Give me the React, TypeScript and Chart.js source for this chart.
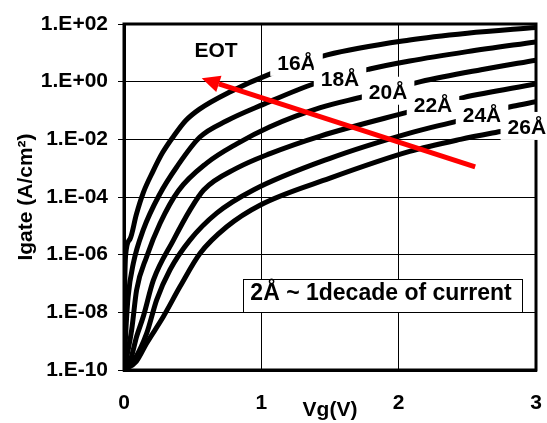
import React, { useEffect, useRef } from 'react';
import { Chart, registerables } from 'chart.js';

Chart.register(...registerables);

const FONT = "'Liberation Sans', Arial, Helvetica, sans-serif";

// ---- axis ticks ----
const xTicks = [0, 1, 2, 3];
const xTickLabels = ['0', '1', '2', '3'];
const yTicks = [1e-10, 1e-8, 1e-6, 1e-4, 1e-2, 1e0, 1e2];
const yTickLabels = ['1.E-10', '1.E-08', '1.E-06', '1.E-04', '1.E-02', '1.E+00', '1.E+02'];

// ---- series: gate current density (A/cm2) vs gate voltage (V) per EOT ----
const eotLabels = ['16Å', '18Å', '20Å', '22Å', '24Å', '26Å'];

const vg16 = [0, 0.004, 0.012, 0.044, 0.09, 0.14, 0.21, 0.28, 0.36, 0.45, 0.55, 0.77, 1.075, 1.48, 2.08, 2.5, 3.0];
const ig16 = [1e-10, 3e-8, 1e-6, 3.5e-6, 2.5e-5, 1.4e-4, 7.6e-4, 3.4e-3, 1.26e-2, 4.5e-2, 1.12e-1, 4.4e-1, 1.95, 8.5, 28, 48, 76];

const vg18 = [0, 0.015, 0.03, 0.068, 0.14, 0.262, 0.384, 0.553, 0.748, 1.01, 1.38, 1.79, 2.08, 2.5, 3.0];
const ig18 = [1e-10, 3.2e-9, 3.5e-8, 5e-7, 7.2e-6, 1.3e-4, 1.1e-3, 1.2e-2, 4.4e-2, 1.6e-1, 8.3e-1, 2.75, 5.2, 11, 24];

const vg20 = [0, 0.03, 0.056, 0.092, 0.165, 0.262, 0.396, 0.602, 0.821, 1.063, 1.43, 1.74, 2.16, 2.6, 3.0];
const ig20 = [1e-10, 5e-10, 2.5e-9, 6e-8, 8.5e-7, 1.2e-5, 1.65e-4, 1.5e-3, 7e-3, 2.75e-2, 1.26e-1, 3e-1, 1.0, 2.6, 5.6];

const vg22 = [0, 0.05, 0.092, 0.14, 0.214, 0.36, 0.48, 0.58, 0.821, 1.063, 1.43, 2.08, 2.47, 3.0];
const ig22 = [1e-10, 2.5e-10, 1.45e-9, 7e-9, 1.3e-7, 3.2e-6, 3.5e-5, 1.75e-4, 1e-3, 3.2e-3, 1.3e-2, 9.1e-2, 2.8e-1, 8.3e-1];

const vg24 = [0, 0.08, 0.165, 0.238, 0.335, 0.48, 0.675, 0.942, 1.5, 2.08, 2.425, 2.83, 3.0];
const ig24 = [1e-10, 2.5e-10, 1.85e-9, 2.7e-8, 3e-7, 3.2e-6, 2.75e-5, 1.75e-4, 2.2e-3, 1.65e-2, 4.3e-2, 1.4e-1, 2e-1];

const vg26 = [0, 0.09, 0.165, 0.286, 0.408, 0.553, 0.748, 0.99, 1.5, 2.08, 2.45, 2.76, 3.0];
const ig26 = [1e-10, 2e-10, 8.5e-10, 7e-9, 7.8e-8, 1.1e-6, 9.3e-6, 5.2e-5, 4.5e-4, 3.8e-3, 1e-2, 1.95e-2, 3.2e-2];

const seriesV = [vg16, vg18, vg20, vg22, vg24, vg26];
const seriesI = [ig16, ig18, ig20, ig22, ig24, ig26];

// ---- annotations (data coordinates) ----
const curveLabelV = [1.256, 1.573, 1.923, 2.25, 2.607, 2.933];
const curveLabelI = [4.47, 1.17, 0.447, 0.155, 0.07, 0.0269];
const eotTitle = 'EOT';
const noteText = '2Å ~ 1decade of current';

const overlayPlugin = {
  id: 'overlay',
  afterDatasetsDraw(chart: any) {
    const { ctx, chartArea: a, scales } = chart;
    const x = scales.x;
    const y = scales.y;
    ctx.save();

    // plot frame
    ctx.strokeStyle = '#000';
    ctx.lineWidth = 3;
    ctx.strokeRect(a.left, a.top, a.right - a.left, a.bottom - a.top);

    // red arrow
    const x0 = x.getPixelForValue(2.557);
    const y0 = y.getPixelForValue(1.1e-3);
    const x1 = x.getPixelForValue(0.566);
    const y1 = y.getPixelForValue(1.31);
    const ang = Math.atan2(y1 - y0, x1 - x0);
    const headLen = 18;
    const headHalf = 8.5;
    const bx = x1 - headLen * Math.cos(ang);
    const by = y1 - headLen * Math.sin(ang);
    ctx.strokeStyle = '#ff0000';
    ctx.fillStyle = '#ff0000';
    ctx.lineWidth = 5;
    ctx.beginPath();
    ctx.moveTo(x0, y0);
    ctx.lineTo(bx, by);
    ctx.stroke();
    ctx.beginPath();
    ctx.moveTo(x1, y1);
    ctx.lineTo(bx + headHalf * Math.sin(ang), by - headHalf * Math.cos(ang));
    ctx.lineTo(bx - headHalf * Math.sin(ang), by + headHalf * Math.cos(ang));
    ctx.closePath();
    ctx.fill();

    // EOT title
    ctx.fillStyle = '#000';
    ctx.font = `bold 21px ${FONT}`;
    ctx.textAlign = 'center';
    ctx.textBaseline = 'middle';
    ctx.fillText(eotTitle, x.getPixelForValue(0.67), y.getPixelForValue(11.2));

    // curve labels with white boxes
    eotLabels.forEach((t, i) => {
      const cx = x.getPixelForValue(curveLabelV[i]);
      const cy = y.getPixelForValue(curveLabelI[i]);
      const w = ctx.measureText(t).width + 14;
      ctx.fillStyle = '#fff';
      ctx.fillRect(cx - w / 2, cy - 15, w, 28);
      ctx.fillStyle = '#000';
      ctx.fillText(t, cx, cy + 1);
    });

    // note box
    const rl = x.getPixelForValue(0.869);
    const rr = x.getPixelForValue(2.904);
    const rt = y.getPixelForValue(1.4e-7);
    const rb = y.getPixelForValue(1e-8);
    ctx.fillStyle = '#fff';
    ctx.fillRect(rl, rt, rr - rl, rb - rt);
    ctx.strokeStyle = '#000';
    ctx.lineWidth = 1;
    ctx.strokeRect(Math.round(rl) + 0.5, Math.round(rt) + 0.5, Math.round(rr - rl), Math.round(rb - rt));
    ctx.fillStyle = '#000';
    ctx.font = `bold 23px ${FONT}`;
    ctx.textAlign = 'left';
    ctx.fillText(noteText, x.getPixelForValue(0.92), y.getPixelForValue(4.8e-8) + 1);

    ctx.restore();
  },
};

export default function App() {
  const ref = useRef<HTMLCanvasElement>(null);

  useEffect(() => {
    document.body.style.margin = '0';
    const datasets = seriesV.map((vs, k) => ({
      label: eotLabels[k],
      data: vs.map((v, i) => ({ x: v, y: seriesI[k][i] })),
      borderColor: '#000',
      backgroundColor: '#000',
      borderWidth: 5,
      pointRadius: 0,
      fill: false,
      cubicInterpolationMode: 'monotone' as const,
    }));

    const chart = new Chart(ref.current as HTMLCanvasElement, {
      type: 'line',
      data: { datasets },
      options: {
        animation: false,
        responsive: false,
        devicePixelRatio: 1,
        layout: { padding: { top: 24, right: 11, left: 0, bottom: 0 } },
        plugins: { legend: { display: false }, tooltip: { enabled: false } },
        scales: {
          x: {
            type: 'linear',
            min: 0,
            max: 3,
            afterBuildTicks: (s: any) => {
              s.ticks = xTicks.map((v) => ({ value: v }));
            },
            afterFit: (s: any) => {
              s.height = 53;
            },
            ticks: {
              autoSkip: false,
              maxRotation: 0,
              padding: 1,
              color: '#000',
              font: { family: FONT, size: 21, weight: 'bold' },
              callback: (_v: any, i: number) => xTickLabels[i],
            },
            grid: { color: '#000', lineWidth: 1, drawTicks: true, tickLength: 20, tickColor: 'rgba(0,0,0,0)' },
            border: { color: '#000', width: 3 },
            title: {
              display: true,
              text: 'Vg(V)',
              color: '#000',
              font: { family: FONT, size: 21, weight: 'bold' },
              padding: 0,
            },
          },
          y: {
            type: 'logarithmic',
            min: 1e-10,
            max: 1e2,
            afterBuildTicks: (s: any) => {
              s.ticks = yTicks.map((v) => ({ value: v }));
            },
            afterFit: (s: any) => {
              s.width = 124;
            },
            ticks: {
              autoSkip: false,
              padding: 10,
              color: '#000',
              font: { family: FONT, size: 21, weight: 'bold' },
              callback: (_v: any, i: number) => yTickLabels[i],
            },
            grid: { color: '#000', lineWidth: 1, tickLength: 6 },
            border: { color: '#000', width: 3 },
            title: {
              display: true,
              text: 'Igate (A/cm²)',
              color: '#000',
              font: { family: FONT, size: 21, weight: 'bold' },
              padding: { top: 14, bottom: 0 },
            },
          },
        },
      } as any,
      plugins: [overlayPlugin],
    });
    return () => chart.destroy();
  }, []);

  return (
    <div style={{ width: 547, height: 423 }}>
      <canvas ref={ref} width={547} height={423} style={{ display: 'block' }} />
    </div>
  );
}
